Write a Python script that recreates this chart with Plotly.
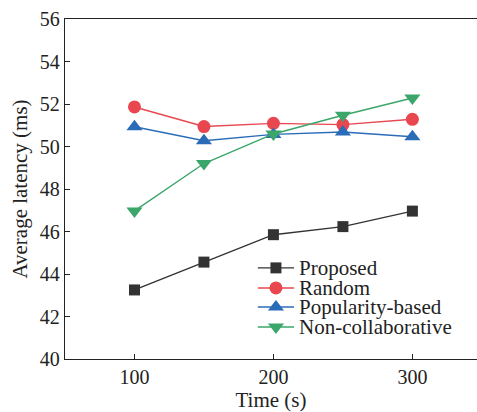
import plotly.graph_objects as go

time_s = [100, 150, 200, 250, 300]
proposed = [43.25, 44.56, 45.85, 46.23, 46.96]
random_ = [51.86, 50.94, 51.09, 51.03, 51.28]
popularity = [50.93, 50.27, 50.57, 50.68, 50.46]
non_collab = [46.97, 49.2, 50.59, 51.47, 52.28]

series_names = ["Proposed", "Random", "Popularity-based", "Non-collaborative"]
series_values = [proposed, random_, popularity, non_collab]
colors = ["#333333", "#e8474f", "#2b6cb8", "#3aa66a"]
symbols = ["square", "circle", "triangle-up", "triangle-down"]
sizes = [11, 13, 14, 14]

# legend rows (paper fractions of the plot area)
legend_rows = [0.268, 0.209, 0.153, 0.094]
legend_line_x = [0.468, 0.556]
legend_marker_x = 0.512
legend_text_x = 0.562

font_family = "Liberation Serif"
ink = "#222222"

fig = go.Figure()
for name, vals, color, sym, size in zip(series_names, series_values, colors, symbols, sizes):
    fig.add_trace(go.Scatter(
        x=time_s, y=vals, name=name, mode="lines+markers",
        line=dict(color=color, width=1.4),
        marker=dict(symbol=sym, size=size, color=color),
        showlegend=False,
    ))

# hand-built legend on an overlay axis spanning the plot area
for name, color, sym, size, ry in zip(series_names, colors, symbols, sizes, legend_rows):
    fig.add_trace(go.Scatter(
        x=legend_line_x, y=[ry, ry], mode="lines",
        line=dict(color=color, width=1.4),
        xaxis="x2", yaxis="y2", showlegend=False, hoverinfo="skip",
    ))
    fig.add_trace(go.Scatter(
        x=[legend_marker_x], y=[ry], mode="markers",
        marker=dict(symbol=sym, size=size, color=color),
        xaxis="x2", yaxis="y2", showlegend=False, hoverinfo="skip",
    ))
    fig.add_annotation(
        x=legend_text_x, y=ry, xref="x2", yref="y2", text=name,
        showarrow=False, xanchor="left", yanchor="middle",
        font=dict(family=font_family, size=21, color=ink),
    )

fig.update_layout(
    width=477, height=412,
    margin=dict(l=65, r=0, t=19, b=53),
    paper_bgcolor="white", plot_bgcolor="white",
    font=dict(family=font_family, size=20, color=ink),
    showlegend=False,
    xaxis=dict(
        range=[50, 346.5], tickvals=[100, 200, 300],
        ticks="inside", ticklen=5, tickcolor=ink,
        showline=True, linecolor=ink, linewidth=1.3, mirror=True,
        showgrid=False, zeroline=False,
        tickfont=dict(size=20),
        title=dict(text="Time (s)", font=dict(size=21), standoff=2),
    ),
    yaxis=dict(
        range=[40, 56], tickvals=list(range(40, 57, 2)),
        ticks="inside", ticklen=5, tickcolor=ink,
        showline=True, linecolor=ink, linewidth=1.3, mirror=True,
        showgrid=False, zeroline=False,
        tickfont=dict(size=20),
        title=dict(text="Average latency (ms)", font=dict(size=21), standoff=6),
    ),
    xaxis2=dict(range=[0, 1], overlaying="x", visible=False, fixedrange=True),
    yaxis2=dict(range=[0, 1], overlaying="y", visible=False, fixedrange=True),
)

fig.write_html("out.html")
